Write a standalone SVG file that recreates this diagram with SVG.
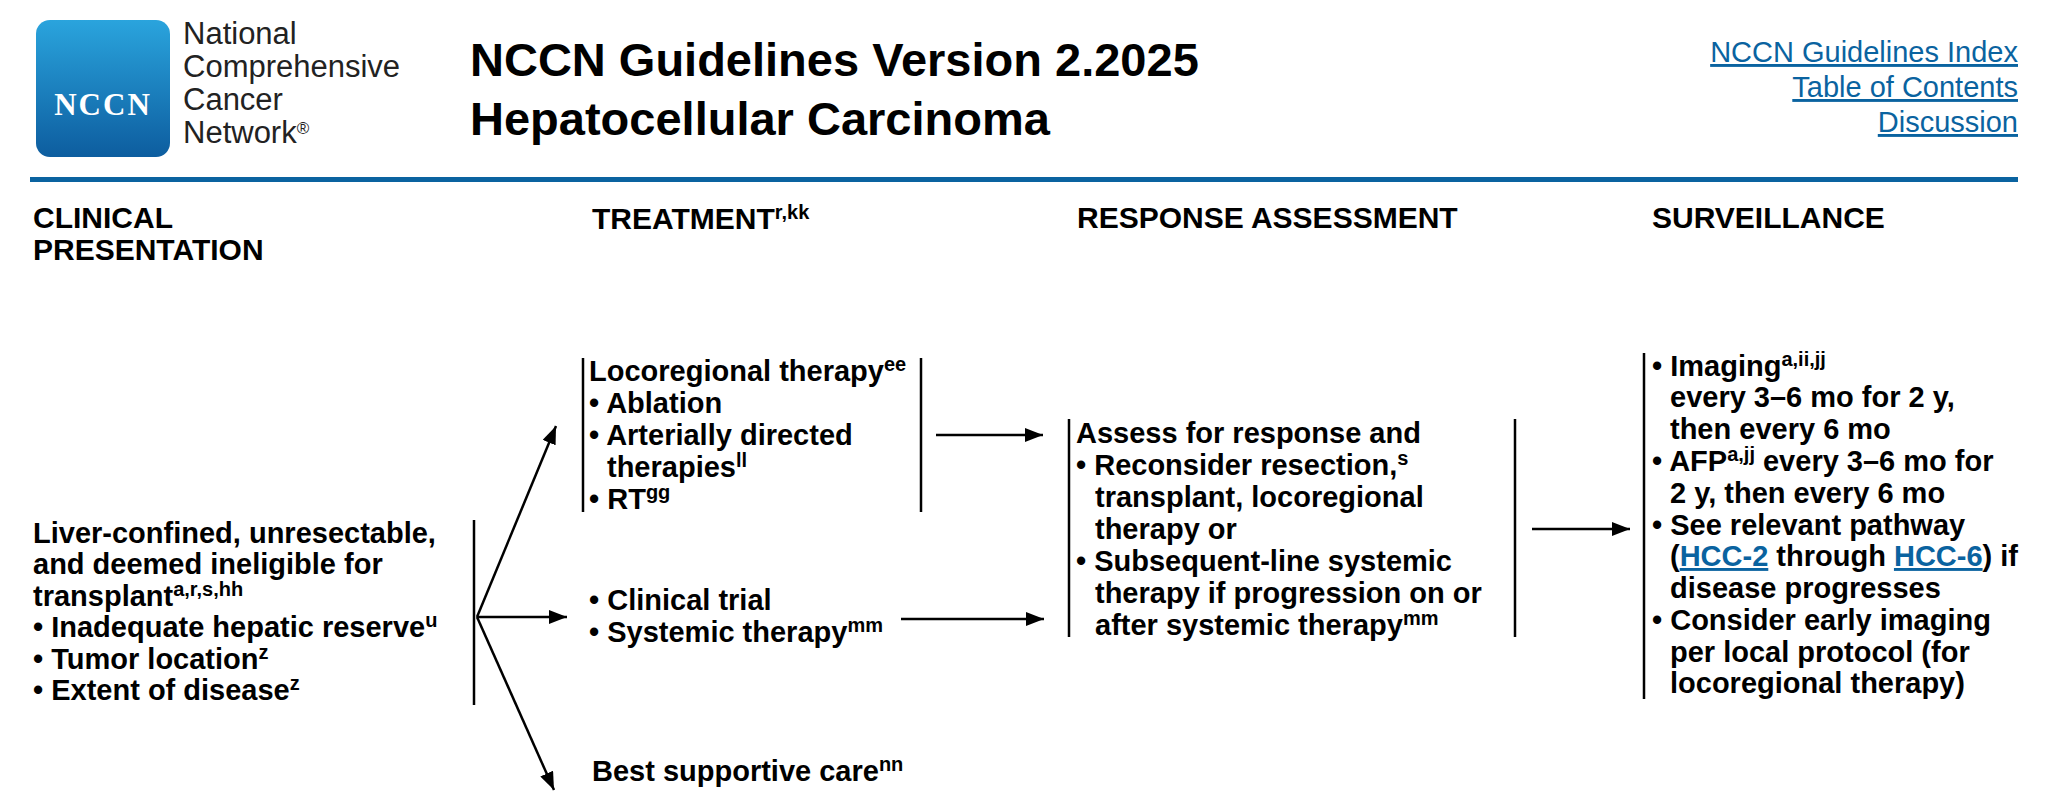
<svg xmlns="http://www.w3.org/2000/svg" width="2048" height="800" viewBox="0 0 2048 800">
<style>
.b{font-family:"Liberation Sans",Arial,sans-serif;font-weight:bold;font-size:29px;fill:#000}
.h{font-family:"Liberation Sans",Arial,sans-serif;font-weight:bold;font-size:30px;fill:#000}
.s{font-size:20px;baseline-shift:10px}
.lk{font-family:"Liberation Sans",Arial,sans-serif;font-size:29px;fill:#0a63a0;text-decoration:underline}
.br{stroke:#000;stroke-width:2.5;fill:none}
.ar{stroke:#000;stroke-width:2.5;fill:none;marker-end:url(#ah)}
</style>
<defs>
<linearGradient id="lg" x1="0" y1="0" x2="0" y2="1"><stop offset="0" stop-color="#2aa4dd"/><stop offset="1" stop-color="#0d5d9f"/></linearGradient>
<marker id="ah" markerUnits="userSpaceOnUse" markerWidth="20" markerHeight="14" refX="18" refY="7" orient="auto"><path d="M0,0 L18,7 L0,14 Z" fill="#000"/></marker>
</defs>
<rect width="2048" height="800" fill="#fff"/>
<g id="header">
<rect x="36" y="20" width="134" height="137" rx="14" fill="url(#lg)"/>
<text x="103" y="115" text-anchor="middle" font-family="Liberation Serif,serif" font-weight="bold" font-size="31" letter-spacing="2" fill="#fff">NCCN</text>
<g font-family="Liberation Sans,Arial,sans-serif" font-size="31" fill="#222">
<text x="183" y="44">National</text>
<text x="183" y="77">Comprehensive</text>
<text x="183" y="110">Cancer</text>
<text x="183" y="143">Network<tspan font-size="17" baseline-shift="9">®</tspan></text>
</g>
<text x="470" y="76" font-family="Liberation Sans,Arial,sans-serif" font-weight="bold" font-size="47">NCCN Guidelines Version 2.2025</text>
<text x="470" y="135" font-family="Liberation Sans,Arial,sans-serif" font-weight="bold" font-size="47">Hepatocellular Carcinoma</text>
<text class="lk" x="2018" y="62" text-anchor="end">NCCN Guidelines Index</text>
<text class="lk" x="2018" y="97" text-anchor="end">Table of Contents</text>
<text class="lk" x="2018" y="132" text-anchor="end">Discussion</text>
<rect x="30" y="177" width="1988" height="5" fill="#0a63a0"/>
</g>
<g id="col-headers">
<text class="h" x="33" y="228">CLINICAL</text>
<text class="h" x="33" y="260">PRESENTATION</text>
<text class="h" x="592" y="229">TREATMENT<tspan class="s">r,kk</tspan></text>
<text class="h" x="1077" y="228">RESPONSE ASSESSMENT</text>
<text class="h" x="1652" y="228">SURVEILLANCE</text>
</g>
<g id="presentation">
<text class="b" x="33" y="543">Liver-confined, unresectable,</text>
<text class="b" x="33" y="574">and deemed ineligible for</text>
<text class="b" x="33" y="606">transplant<tspan class="s">a,r,s,hh</tspan></text>
<text class="b" x="33" y="637">• Inadequate hepatic reserve<tspan class="s">u</tspan></text>
<text class="b" x="33" y="669">• Tumor location<tspan class="s">z</tspan></text>
<text class="b" x="33" y="700">• Extent of disease<tspan class="s">z</tspan></text>
<line class="br" x1="474" y1="520" x2="474" y2="705"/>
</g>
<g id="locoregional">
<line class="br" x1="583" y1="358" x2="583" y2="512"/>
<line class="br" x1="921" y1="358" x2="921" y2="512"/>
<text class="b" x="589" y="381">Locoregional therapy<tspan class="s">ee</tspan></text>
<text class="b" x="589" y="413">• Ablation</text>
<text class="b" x="589" y="445">• Arterially directed</text>
<text class="b" x="607" y="477">therapies<tspan class="s">ll</tspan></text>
<text class="b" x="589" y="509">• RT<tspan class="s">gg</tspan></text>
</g>
<g id="systemic">
<text class="b" x="589" y="610">• Clinical trial</text>
<text class="b" x="589" y="642">• Systemic therapy<tspan class="s">mm</tspan></text>
</g>
<g id="bsc">
<text class="b" x="592" y="781">Best supportive care<tspan class="s">nn</tspan></text>
</g>
<g id="assessment">
<line class="br" x1="1069" y1="419" x2="1069" y2="637"/>
<line class="br" x1="1515" y1="419" x2="1515" y2="637"/>
<text class="b" x="1076" y="443">Assess for response and</text>
<text class="b" x="1076" y="475">• Reconsider resection,<tspan class="s">s</tspan></text>
<text class="b" x="1095" y="507">transplant, locoregional</text>
<text class="b" x="1095" y="539">therapy or</text>
<text class="b" x="1076" y="571">• Subsequent-line systemic</text>
<text class="b" x="1095" y="603">therapy if progression on or</text>
<text class="b" x="1095" y="635">after systemic therapy<tspan class="s">mm</tspan></text>
</g>
<g id="surveillance">
<line class="br" x1="1644" y1="353" x2="1644" y2="699"/>
<text class="b" x="1652" y="376">• Imaging<tspan class="s">a,ii,jj</tspan></text>
<text class="b" x="1670" y="407">every 3–6 mo for 2 y,</text>
<text class="b" x="1670" y="439">then every 6 mo</text>
<text class="b" x="1652" y="471">• AFP<tspan class="s">a,jj</tspan> every 3–6 mo for</text>
<text class="b" x="1670" y="503">2 y, then every 6 mo</text>
<text class="b" x="1652" y="535">• See relevant pathway</text>
<text class="b" x="1670" y="566">(<tspan fill="#0a63a0" text-decoration="underline">HCC-2</tspan> through <tspan fill="#0a63a0" text-decoration="underline">HCC-6</tspan>) if</text>
<text class="b" x="1670" y="598">disease progresses</text>
<text class="b" x="1652" y="630">• Consider early imaging</text>
<text class="b" x="1670" y="662">per local protocol (for</text>
<text class="b" x="1670" y="693">locoregional therapy)</text>
</g>
<g id="connectors">
<line class="ar" x1="477" y1="617" x2="556" y2="426"/>
<line class="ar" x1="477" y1="617" x2="567" y2="617"/>
<line class="ar" x1="477" y1="617" x2="554" y2="790"/>
<line class="ar" x1="936" y1="435" x2="1043" y2="435"/>
<line class="ar" x1="901" y1="619" x2="1044" y2="619"/>
<line class="ar" x1="1532" y1="529" x2="1630" y2="529"/>
</g>
</svg>
